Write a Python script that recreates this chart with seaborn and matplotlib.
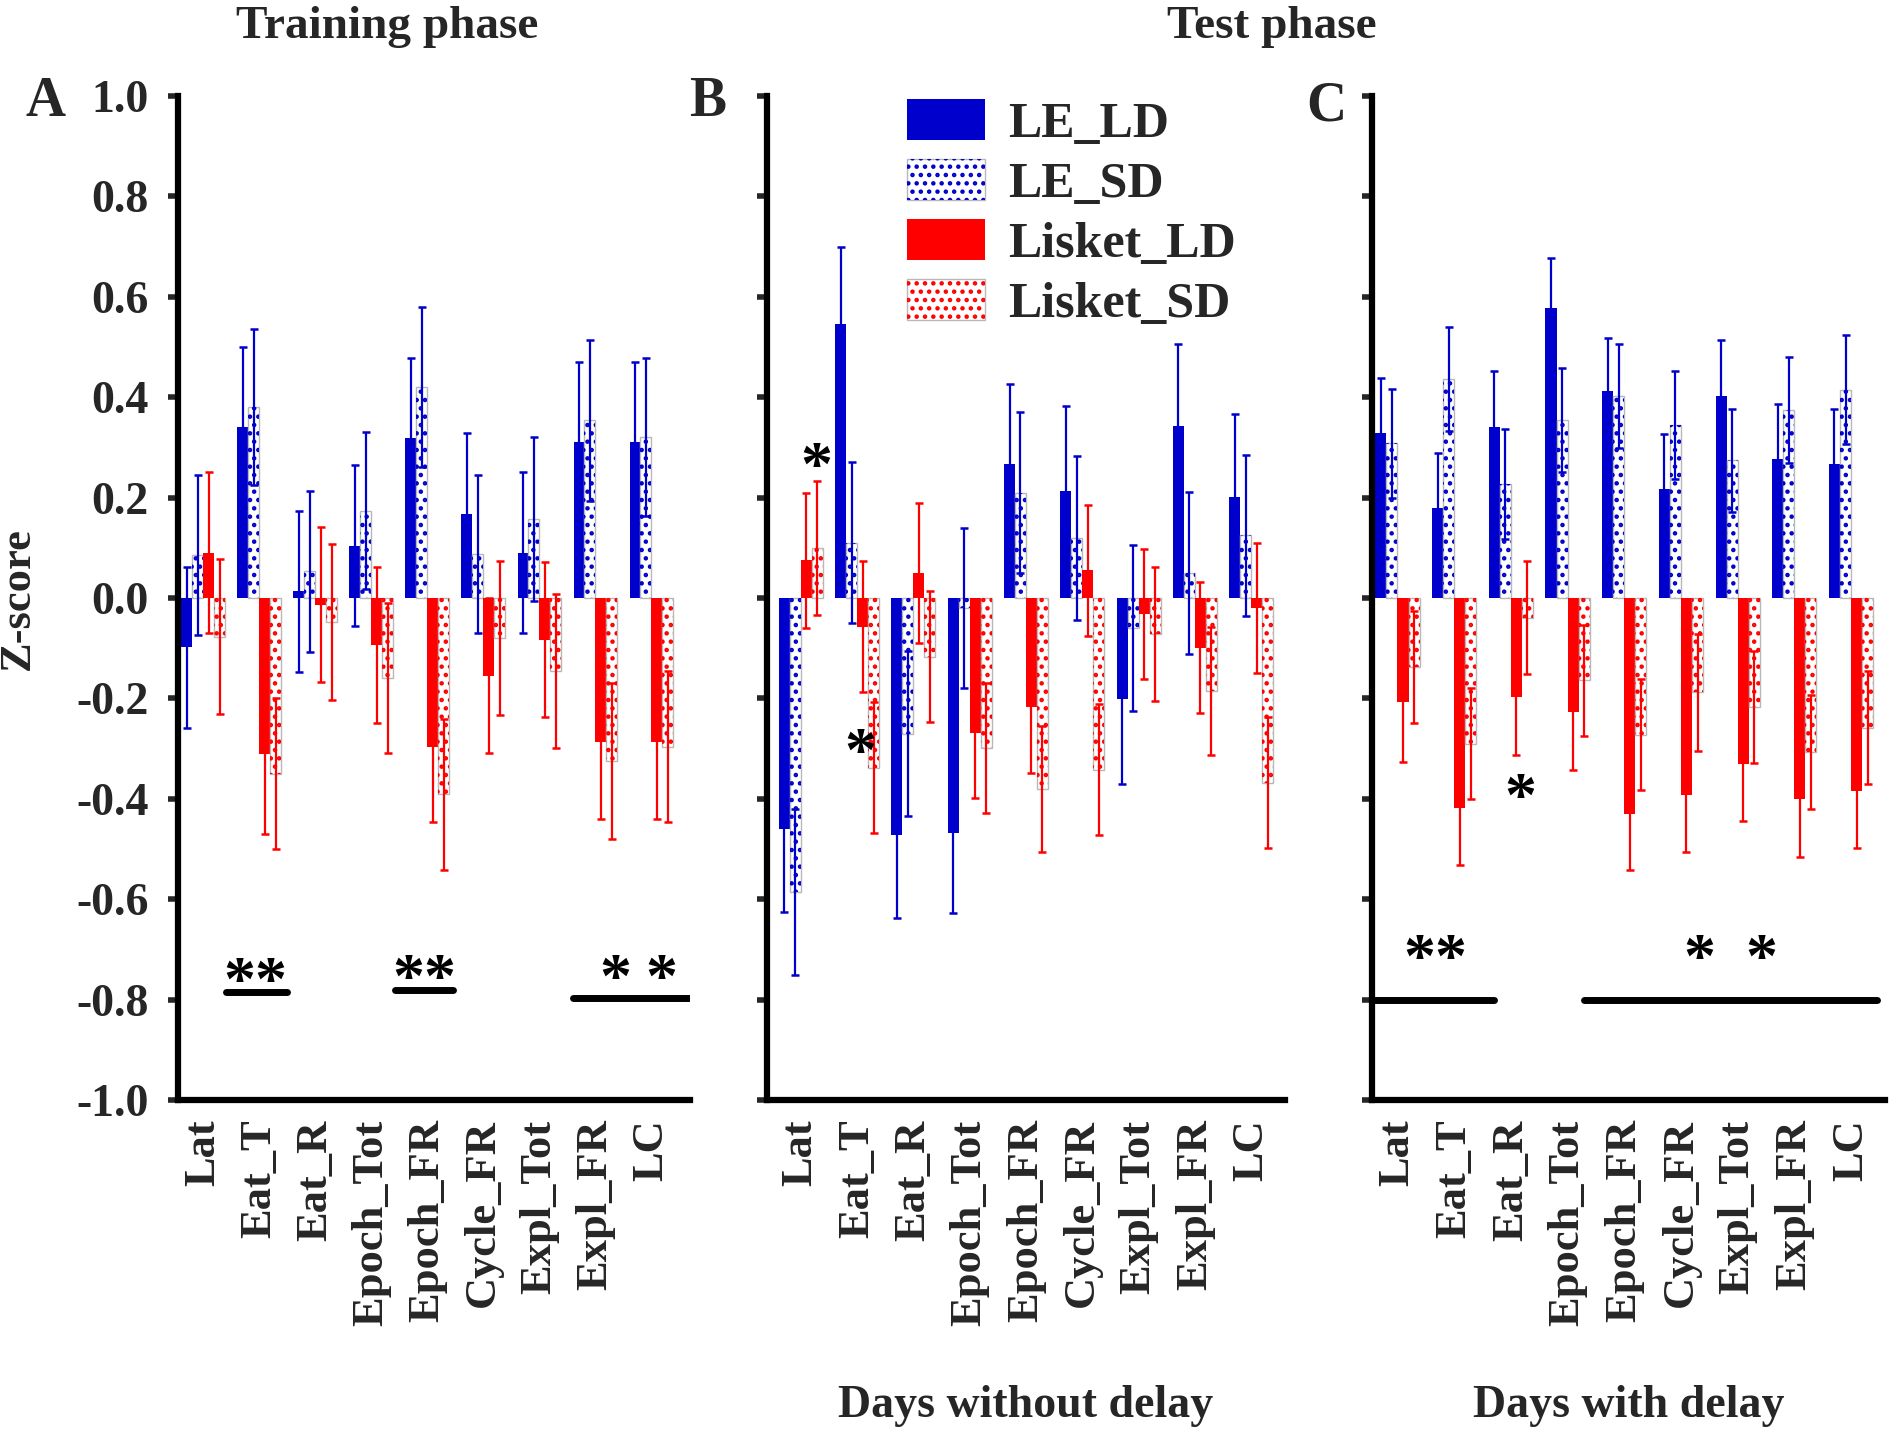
import matplotlib
matplotlib.use('Agg')
import matplotlib.pyplot as plt
from matplotlib.patches import Patch, Rectangle
import pandas as pd
import seaborn as sns

# categories and groups
measures = ['Lat', 'Eat_T', 'Eat_R', 'Epoch_Tot', 'Epoch_FR', 'Cycle_FR', 'Expl_Tot', 'Expl_FR', 'LC']
groups = ['LE_LD', 'LE_SD', 'Lisket_LD', 'Lisket_SD']

# A - training phase (mean z-scores and error)
a_le_ld = [-0.098, 0.34, 0.013, 0.104, 0.318, 0.168, 0.09, 0.31, 0.31]
a_le_sd = [0.086, 0.38, 0.053, 0.174, 0.42, 0.088, 0.158, 0.354, 0.321]
a_lis_ld = [0.09, -0.311, -0.013, -0.094, -0.296, -0.155, -0.083, -0.286, -0.286]
a_lis_sd = [-0.077, -0.35, -0.048, -0.159, -0.391, -0.08, -0.146, -0.325, -0.296]
a_err_le_ld = [0.16, 0.16, 0.16, 0.16, 0.16, 0.16, 0.16, 0.16, 0.16]
a_err_le_sd = [0.16, 0.155, 0.16, 0.156, 0.16, 0.158, 0.163, 0.16, 0.157]
a_err_lis_ld = [0.16, 0.16, 0.155, 0.155, 0.15, 0.154, 0.155, 0.155, 0.155]
a_err_lis_sd = [0.155, 0.15, 0.155, 0.15, 0.15, 0.153, 0.153, 0.155, 0.15]

# B - test phase, days without delay
b_le_ld = [-0.46, 0.545, -0.472, -0.468, 0.267, 0.213, -0.201, 0.343, 0.201]
b_le_sd = [-0.586, 0.11, -0.27, -0.02, 0.21, 0.12, -0.06, 0.05, 0.125]
b_lis_ld = [0.075, -0.057, 0.05, -0.268, -0.218, 0.055, -0.032, -0.099, -0.02]
b_lis_sd = [0.10, -0.338, -0.117, -0.299, -0.381, -0.342, -0.072, -0.185, -0.368]
b_err_le_ld = [0.165, 0.155, 0.165, 0.16, 0.16, 0.17, 0.17, 0.163, 0.165]
b_err_le_sd = [0.165, 0.16, 0.165, 0.16, 0.16, 0.163, 0.165, 0.162, 0.16]
b_err_lis_ld = [0.135, 0.13, 0.14, 0.13, 0.13, 0.13, 0.13, 0.13, 0.13]
b_err_lis_sd = [0.133, 0.13, 0.13, 0.13, 0.125, 0.13, 0.133, 0.127, 0.13]

# C - test phase, days with delay
c_le_ld = [0.329, 0.18, 0.341, 0.578, 0.412, 0.217, 0.403, 0.276, 0.267]
c_le_sd = [0.308, 0.436, 0.227, 0.354, 0.402, 0.345, 0.274, 0.374, 0.415]
c_lis_ld = [-0.207, -0.418, -0.198, -0.227, -0.431, -0.393, -0.33, -0.401, -0.385]
c_lis_sd = [-0.138, -0.29, -0.039, -0.164, -0.272, -0.188, -0.217, -0.307, -0.258]
c_err_le_ld = [0.11, 0.108, 0.111, 0.1, 0.106, 0.11, 0.11, 0.11, 0.11]
c_err_le_sd = [0.108, 0.104, 0.11, 0.104, 0.104, 0.108, 0.103, 0.106, 0.108]
c_err_lis_ld = [0.12, 0.114, 0.115, 0.115, 0.11, 0.114, 0.114, 0.114, 0.114]
c_err_lis_sd = [0.112, 0.11, 0.113, 0.11, 0.11, 0.117, 0.112, 0.113, 0.112]

# significance marks (x in category units, y in z-score)
a_sig_lines = [(0.41, 1.49, -0.785), (3.43, 4.46, -0.78), (6.6, 8.69, -0.796)]
a_sig_text = [(0.93, -0.745, '**'), (3.94, -0.74, '**'), (7.35, -0.74, '*'), (8.17, -0.74, '*')]
b_sig_lines = []
b_sig_text = [(0.28, 0.28, '*'), (1.05, -0.29, '*')]
c_sig_lines = [(-0.4, 1.7, -0.80), (3.29, 8.46, -0.80)]
c_sig_text = [(0.67, -0.70, '**'), (5.33, -0.70, '*'), (6.42, -0.70, '*'), (2.16, -0.38, '*')]

ytick_vals = [-1.0, -0.8, -0.6, -0.4, -0.2, 0.0, 0.2, 0.4, 0.6, 0.8, 1.0]

colors = {'LE_LD': '#0000cc', 'LE_SD': '#0000cc', 'Lisket_LD': '#ff0000', 'Lisket_SD': '#ff0000'}

sns.set_style('ticks')
plt.rcParams['font.family'] = ['Liberation Serif', 'DejaVu Serif']
plt.rcParams['font.weight'] = 'bold'
plt.rcParams['hatch.linewidth'] = 2.0
plt.rcParams['axes.unicode_minus'] = False

fig = plt.figure(figsize=(18.9, 14.33), dpi=100)
ax_a = fig.add_axes([0.0942, 0.2324, 0.2709, 0.7006])
ax_b = fig.add_axes([0.4058, 0.2324, 0.2741, 0.7006])
ax_c = fig.add_axes([0.7259, 0.2324, 0.2715, 0.7006])


def draw_panel(ax, means, errs, xlim, sig_lines, sig_text, show_ylabels):
    rows = []
    for g in groups:
        for m, v in zip(measures, means[g]):
            rows.append({'measure': m, 'group': g, 'z': v})
    df = pd.DataFrame(rows)
    sns.barplot(data=df, x='measure', y='z', hue='group', order=measures, hue_order=groups,
                palette=colors, saturation=1, width=0.78, errorbar=None, legend=False, ax=ax)

    for g, cont in zip(groups, ax.containers):
        c = colors[g]
        for bar, e in zip(cont, errs[g]):
            if g.endswith('_SD'):
                bar.set_facecolor('white')
                bar.set_edgecolor('#b8b8b8')
                bar.set_linewidth(1.0)
                ax.add_patch(Rectangle(bar.get_xy(), bar.get_width(), bar.get_height(),
                                       facecolor='none', edgecolor=c, linewidth=0,
                                       hatch='..', zorder=bar.get_zorder() + 0.1))
            else:
                bar.set_linewidth(0)
            x = bar.get_x() + bar.get_width() / 2
            y = bar.get_y() + bar.get_height()
            ax.errorbar(x, y, yerr=e, fmt='none', ecolor=c, elinewidth=1.6,
                        capsize=3, capthick=1.8, zorder=4)

    for x0, x1, y in sig_lines:
        ax.plot([x0, x1], [y, y], color='black', lw=5, solid_capstyle='round', zorder=5)
    for x, y, s in sig_text:
        ax.text(x, y - 0.055, s, ha='center', va='baseline', fontsize=46,
                fontweight='bold', color='black', zorder=6)

    ax.set_xlim(*xlim)
    ax.set_ylim(-1.0, 1.0)
    ax.set_yticks(ytick_vals)
    if show_ylabels:
        ax.set_yticklabels([f'{v:.1f}' for v in ytick_vals])
    else:
        ax.set_yticklabels([])
    ax.set_xticks(range(len(measures)))
    ax.set_xticklabels(measures, rotation=90, va='top', ha='center')
    ax.tick_params(axis='y', direction='out', length=7, width=4, labelsize=33, pad=14)
    ax.tick_params(axis='x', length=0, labelsize=32, pad=14)
    ax.set_xlabel('')
    ax.set_ylabel('')
    sns.despine(ax=ax)
    for side in ['left', 'bottom']:
        ax.spines[side].set_linewidth(4.5)
        ax.spines[side].set_color('black')


draw_panel(ax_a,
           {'LE_LD': a_le_ld, 'LE_SD': a_le_sd, 'Lisket_LD': a_lis_ld, 'Lisket_SD': a_lis_sd},
           {'LE_LD': a_err_le_ld, 'LE_SD': a_err_le_sd, 'Lisket_LD': a_err_lis_ld, 'Lisket_SD': a_err_lis_sd},
           (-0.45, 8.69), a_sig_lines, a_sig_text, True)
draw_panel(ax_b,
           {'LE_LD': b_le_ld, 'LE_SD': b_le_sd, 'Lisket_LD': b_lis_ld, 'Lisket_SD': b_lis_sd},
           {'LE_LD': b_err_le_ld, 'LE_SD': b_err_le_sd, 'Lisket_LD': b_err_lis_ld, 'Lisket_SD': b_err_lis_sd},
           (-0.6, 8.6), b_sig_lines, b_sig_text, False)
draw_panel(ax_c,
           {'LE_LD': c_le_ld, 'LE_SD': c_le_sd, 'Lisket_LD': c_lis_ld, 'Lisket_SD': c_lis_sd},
           {'LE_LD': c_err_le_ld, 'LE_SD': c_err_le_sd, 'Lisket_LD': c_err_lis_ld, 'Lisket_SD': c_err_lis_sd},
           (-0.45, 8.6), c_sig_lines, c_sig_text, False)

ax_b.set_xlabel('Days without delay', fontsize=33, fontweight='bold', labelpad=43)
ax_c.set_xlabel('Days with delay', fontsize=33, fontweight='bold', labelpad=43)

fig.text(0.0095, 0.582, 'Z-score', rotation=90, ha='center', va='center', fontsize=32, fontweight='bold')
fig.text(0.205, 0.981, 'Training phase', ha='center', va='center', fontsize=34, fontweight='bold')
fig.text(0.673, 0.981, 'Test phase', ha='center', va='center', fontsize=34, fontweight='bold')
fig.text(0.0243, 0.929, 'A', ha='center', va='center', fontsize=40, fontweight='bold')
fig.text(0.3746, 0.929, 'B', ha='center', va='center', fontsize=40, fontweight='bold')
fig.text(0.7016, 0.926, 'C', ha='center', va='center', fontsize=40, fontweight='bold')

# legend
handles = []
for g in groups:
    c = colors[g]
    if g.endswith('_SD'):
        handles.append((Patch(facecolor='white', edgecolor='#b8b8b8', linewidth=1.0),
                        Patch(facecolor='none', edgecolor=c, linewidth=0, hatch='..')))
    else:
        handles.append(Patch(facecolor=c, edgecolor=c, linewidth=0))
fig.legend(handles, groups, loc='upper left', bbox_to_anchor=(0.480, 0.931), frameon=False,
           fontsize=36, handlelength=1.56, handleheight=0.9, handletextpad=0.45,
           labelspacing=0.22, borderpad=0, borderaxespad=0)

fig.savefig('out.png', dpi=100, facecolor='white')
